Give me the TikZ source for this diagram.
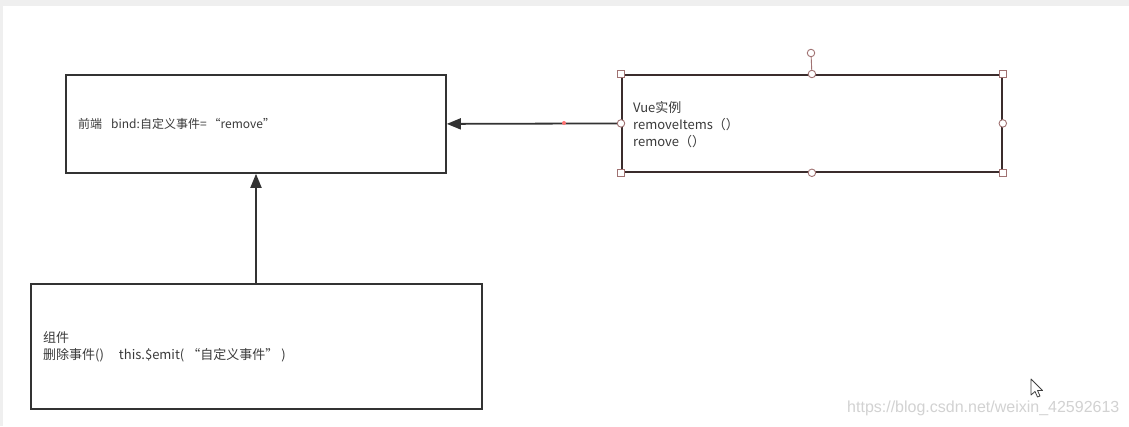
\documentclass[tikz,border=0pt]{standalone}
\usepackage{fontspec}
\setmainfont{Noto Sans CJK SC}
\newfontfamily\wmfont{Liberation Sans}
\usetikzlibrary{arrows.meta}
\definecolor{boxline}{HTML}{333333}
\definecolor{txt}{HTML}{3A3A3A}
\definecolor{handle}{HTML}{A07272}
\definecolor{selline}{HTML}{3A2C2C}
\definecolor{bggray}{HTML}{EFEFEF}
\definecolor{wm}{HTML}{D2D2D2}
\tikzset{
  box/.style={draw=boxline, line width=1.8pt, fill=white},
  boxtext/.style={text=txt, font=\fontsize{12}{17}\selectfont, align=left, anchor=west, inner sep=0pt},
  bigtext/.style={boxtext, font=\fontsize{13}{17}\selectfont},
  conn/.style={draw=boxline, line width=1.8pt, -{Triangle[length=14pt,width=11pt]}},
  hsq/.style={draw=handle, fill=white, line width=0.9pt, minimum size=6.5pt, inner sep=0pt, shape=rectangle},
  hci/.style={draw=handle, fill=white, line width=0.9pt, minimum size=7.5pt, inner sep=0pt, shape=circle},
}
\begin{document}
\begin{tikzpicture}[x=1pt,y=-1pt]
\useasboundingbox (0,0) rectangle (1129,426);
\fill[bggray] (0,0) rectangle (1129,426);
\fill[white] (3,6) rectangle (1129,426);
% boxes
\node[box, minimum width=380pt, minimum height=98pt, anchor=north west, inner sep=0pt] (front) at (65,74) {};
\node[box, draw=selline, minimum width=380pt, minimum height=97pt, anchor=north west, inner sep=0pt] (vue) at (621,74) {};
\node[box, minimum width=451pt, minimum height=125pt, anchor=north west, inner sep=0pt] (comp) at (30,283) {};
% texts
\node[boxtext] (fronttxt) at (78,124) {前端\hspace{9pt}bind:自定义事件=\hspace{2pt}“remove”};
\node[bigtext] (vuetxt) at (633,125) {Vue实例\\removeItems（）\\remove（）};
\node[bigtext] (comptxt) at (43,347) {组件\\删除事件()\hspace{15pt}this.\$emit(\hspace{3pt}“自定义事件”\hspace{3pt})};
% connectors
\draw[conn] (vue.west) -- (front.east);
\draw[conn] (comp.north -| 256,0) -- (front.south -| 256,0);
\node[circle, fill=red!55!white, inner sep=0pt, minimum size=4pt] (reddot) at (564,123) {};
% selection handles
\coordinate (rot) at (811,53);
\draw[handle, line width=0.9pt] (rot) -- (vue.north);
\node[hci] (hrot) at (rot) {};
\node[hsq] (h1) at (vue.north west) {};
\node[hsq] (h2) at (vue.north east) {};
\node[hsq] (h3) at (vue.south west) {};
\node[hsq] (h4) at (vue.south east) {};
\node[hci] (h5) at (vue.north) {};
\node[hci] (h6) at (vue.south) {};
\node[hci] (h7) at (vue.west) {};
\node[hci] (h8) at (vue.east) {};
% cursor
\draw[line width=0.8pt, draw=black!75, fill=white, line join=round]
  (1031,379) -- (1031,395) -- (1035,391.5) -- (1037.5,397) -- (1040,396) -- (1037.5,390.5) -- (1042.5,390.5) -- cycle;
% watermark
\node[anchor=west, inner sep=0pt, text=wm, font=\wmfont\fontsize{16}{18}\selectfont] (wmtext) at (847,408) {https://blog.csdn.net/weixin\_42592613};
\end{tikzpicture}
\end{document}
